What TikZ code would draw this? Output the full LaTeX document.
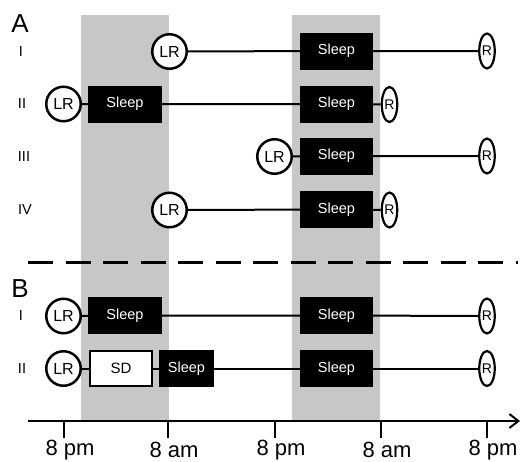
\documentclass[tikz,border=0pt]{standalone}
\usepackage{fontspec}
\setmainfont{Liberation Sans}
\usetikzlibrary{shapes.geometric,arrows.meta}
\definecolor{bandgray}{RGB}{199,199,199}
\tikzset{
  lr/.style={circle,draw,fill=white,line width=2.5pt,minimum size=34.5pt,inner sep=0pt,font=\fontsize{16}{16}\selectfont},
  rr/.style={ellipse,draw,fill=white,line width=2.2pt,minimum width=15.5pt,minimum height=35pt,inner sep=0pt,font=\fontsize{14}{14}\selectfont},
  sleepbox/.style={rectangle,fill=black,text=white,minimum width=73pt,minimum height=37pt,inner sep=0pt,font=\fontsize{14.5}{14.5}\selectfont},
  sdbox/.style={rectangle,draw,fill=white,line width=2pt,minimum width=62pt,minimum height=35pt,inner sep=0pt,font=\fontsize{15}{15}\selectfont},
  conn/.style={line width=2pt},
  rowlab/.style={font=\fontsize{14.5}{14.5}\selectfont},
  panel/.style={font=\fontsize{26}{26}\selectfont},
  ticklab/.style={font=\fontsize{22}{22}\selectfont},
}
\begin{document}
\begin{tikzpicture}[x=1pt,y=-1pt]
\useasboundingbox (0,0) rectangle (522,461);
% gray bands
\fill[bandgray] (81,15) rectangle (169,420);
\fill[bandgray] (292,15) rectangle (380,420);
% panel letters
\node[panel] (pA) at (20,24) {A};
\node[panel] (pB) at (20,289) {B};
% row labels
\node[rowlab] (lAI) at (21,52) {I};
\node[rowlab] (lAII) at (22,104) {II};
\node[rowlab] (lAIII) at (24,157) {III};
\node[rowlab] (lAIV) at (25,210) {IV};
\node[rowlab] (lBI) at (21,316) {I};
\node[rowlab] (lBII) at (22,369) {II};
% Row A I
\node[lr] (a1lr) at (169.5,51.5) {LR};
\node[sleepbox] (a1s) at (336.5,51) {Sleep};
\node[rr] (a1r) at (487,51) {R};
\draw[conn] (a1lr) -- (a1s) -- (a1r);
% Row A II
\node[lr] (a2lr) at (63.5,104) {LR};
\node[sleepbox,minimum width=74pt] (a2s1) at (125,104) {Sleep};
\node[sleepbox] (a2s2) at (336.5,104) {Sleep};
\node[rr] (a2r) at (389.5,104.5) {R};
\draw[conn] (a2lr) -- (a2s1) -- (a2s2) -- (a2r);
% Row A III
\node[lr] (a3lr) at (274.5,156.5) {LR};
\node[sleepbox] (a3s) at (336.5,156) {Sleep};
\node[rr] (a3r) at (487,156) {R};
\draw[conn] (a3lr) -- (a3s) -- (a3r);
% Row A IV
\node[lr] (a4lr) at (169.5,210) {LR};
\node[sleepbox] (a4s) at (336.5,209.5) {Sleep};
\node[rr] (a4r) at (389.5,210) {R};
\draw[conn] (a4lr) -- (a4s) -- (a4r);
% dashed separator
\coordinate (d0) at (28,262);
\coordinate (d1) at (518,262);
\draw[line width=3pt,dash pattern=on 25pt off 12.5pt] (d0) -- (d1);
% Row B I
\node[lr] (b1lr) at (63.5,316) {LR};
\node[sleepbox,minimum width=74pt] (b1s1) at (125,315.5) {Sleep};
\node[sleepbox] (b1s2) at (336.5,315.5) {Sleep};
\node[rr] (b1r) at (487,316) {R};
\draw[conn] (b1lr) -- (b1s1) -- (b1s2) -- (b1r);
% Row B II
\node[lr] (b2lr) at (63.5,368.5) {LR};
\node[sdbox] (b2sd) at (121,368.5) {SD};
\node[sleepbox,minimum width=55pt] (b2s1) at (186.5,368.5) {Sleep};
\node[sleepbox] (b2s2) at (336.5,368.5) {Sleep};
\node[rr] (b2r) at (487,368.5) {R};
\draw[conn] (b2lr) -- (b2sd) -- (b2s1) -- (b2s2) -- (b2r);
% time axis
\coordinate (ax0) at (28,421);
\coordinate (ax1) at (520,421);
\draw[line width=2.5pt,-{Straight Barb[length=9pt,width=14pt,line width=2pt]}] (ax0) -- (ax1);
\foreach \x/\t/\n in {64/8 pm/t1,168/8 am/t2,275/8 pm/t3,381/8 am/t4,487/8 pm/t5}{
  \coordinate (\n a) at (\x,421);
  \coordinate (\n b) at (\x,438);
  \draw[line width=2.5pt] (\n a) -- (\n b);
  \node[ticklab,anchor=center] (\n) at (\x+6,450) {\t};
}
\end{tikzpicture}
\end{document}
